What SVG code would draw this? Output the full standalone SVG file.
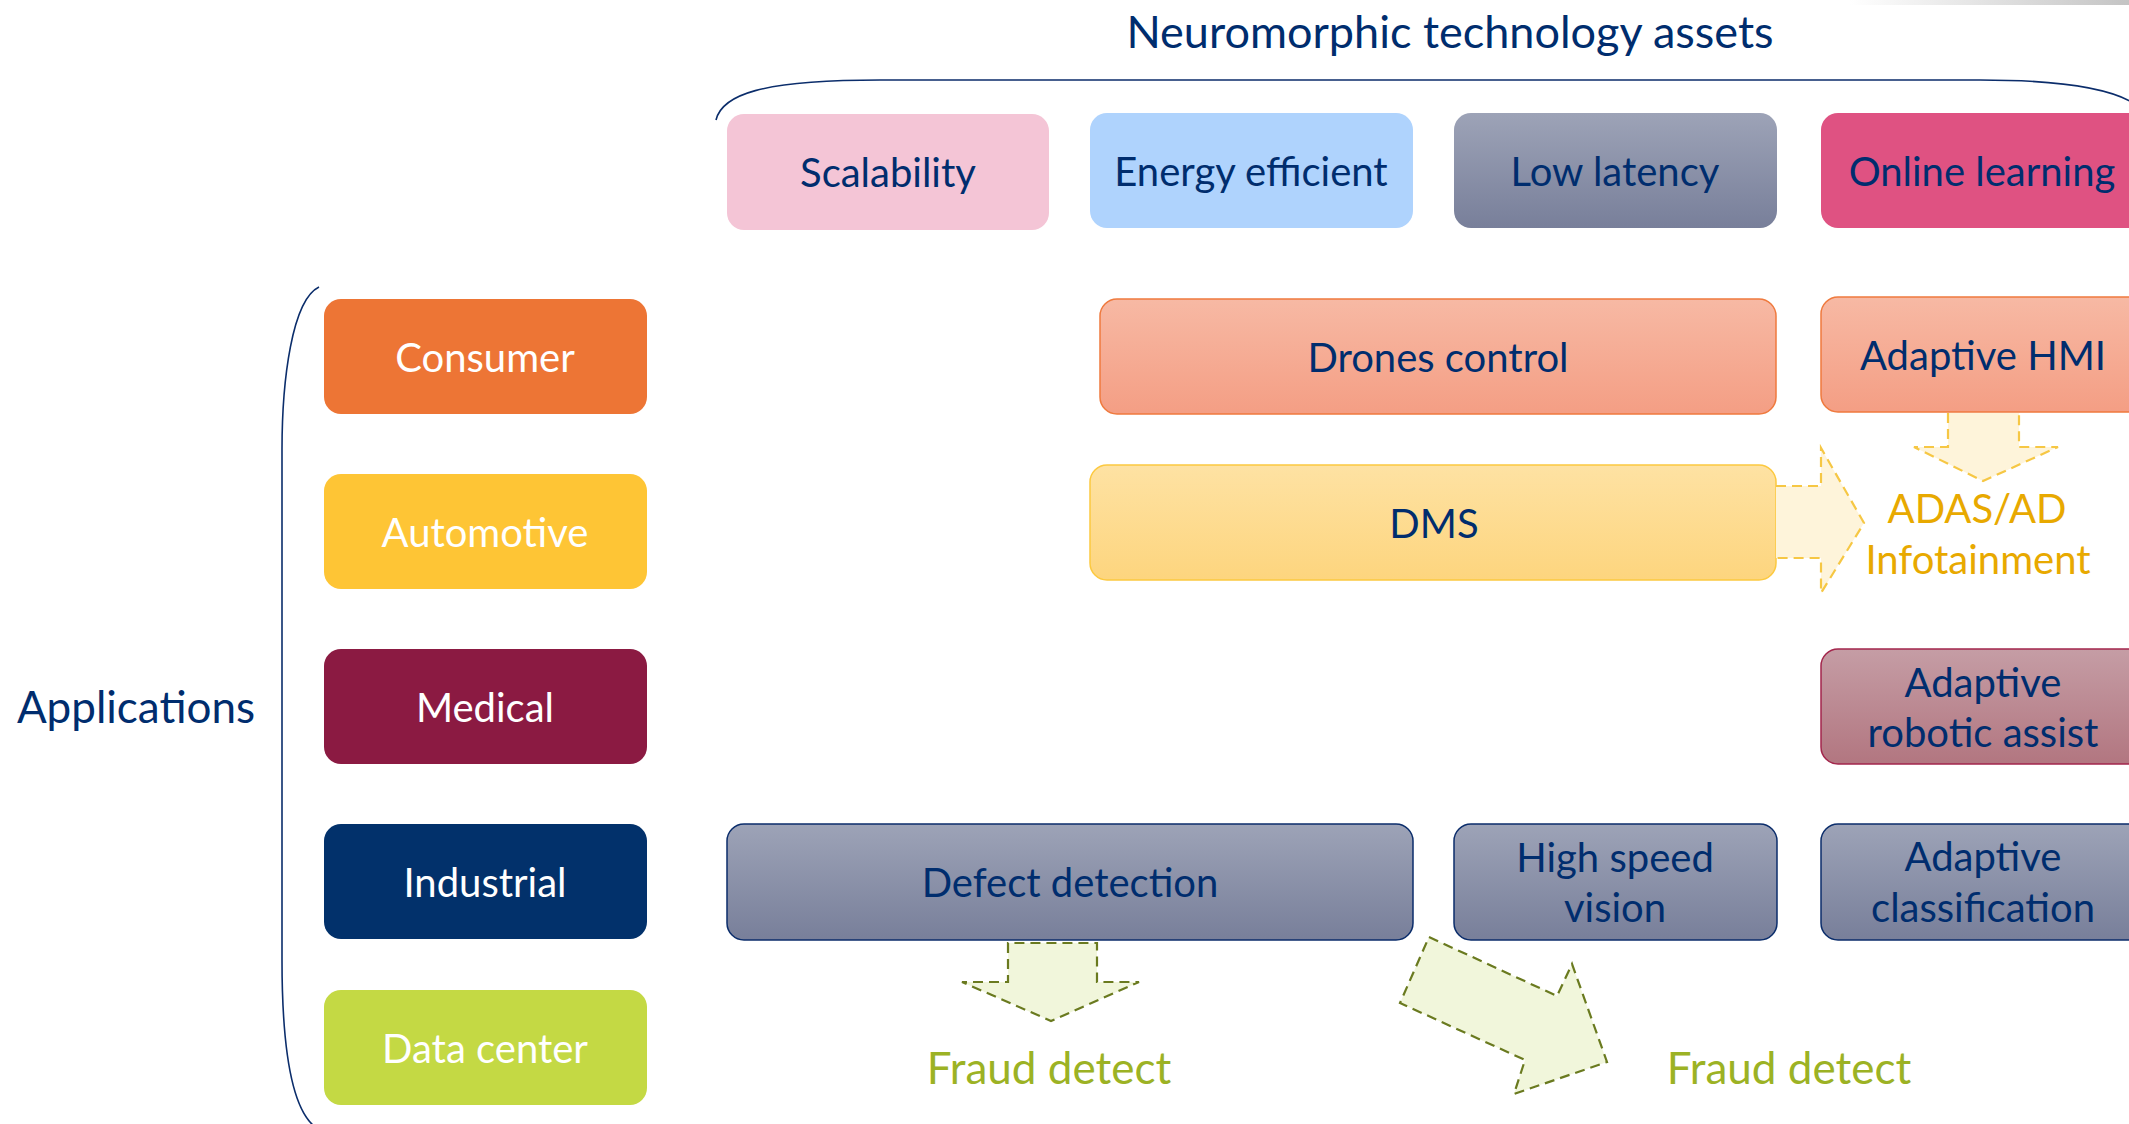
<svg xmlns="http://www.w3.org/2000/svg" width="2129" height="1124" viewBox="0 0 2129 1124">
  <defs>
    <linearGradient id="gGrey" x1="0" y1="0" x2="0" y2="1">
      <stop offset="0" stop-color="#9DA3B7"/>
      <stop offset="1" stop-color="#787F9A"/>
    </linearGradient>
    <linearGradient id="gSalmon" x1="0" y1="0" x2="0" y2="1">
      <stop offset="0" stop-color="#F7B9A4"/>
      <stop offset="1" stop-color="#F49E84"/>
    </linearGradient>
    <linearGradient id="gYellow" x1="0" y1="0" x2="0" y2="1">
      <stop offset="0" stop-color="#FEE2A3"/>
      <stop offset="1" stop-color="#FDD57E"/>
    </linearGradient>
    <linearGradient id="gRose" x1="0" y1="0" x2="0" y2="1">
      <stop offset="0" stop-color="#C59DA5"/>
      <stop offset="1" stop-color="#B27680"/>
    </linearGradient>
    <linearGradient id="gCorner" x1="0" y1="0" x2="1" y2="0">
      <stop offset="0" stop-color="#FFFFFF"/>
      <stop offset="1" stop-color="#C4C4C4"/>
    </linearGradient>
  </defs>
  <style>
    text { font-family: Lato, "Open Sans", "Liberation Sans", sans-serif; text-anchor: middle; }
    .lbl { font-size: 40px; fill: #002D6E; }
    .wht { font-size: 40px; fill: #FFFFFF; }
    .head { font-size: 45px; fill: #002D6E; }
    .apps { font-size: 44px; fill: #002D6E; }
    .gold { font-size: 40px; fill: #E8A900; }
    .olive { font-size: 44px; fill: #9CB224; }
    .brace { fill: none; stroke: #0B2D6B; stroke-width: 1.6; }
    .arrY { fill: #FEF4DA; stroke: #F6C744; stroke-width: 2.2; stroke-dasharray: 10 6; }
    .arrG { fill: #F1F6DB; stroke: #6A7A1F; stroke-width: 2.2; stroke-dasharray: 10 6; }
  </style>

  <!-- faint shading strip in the upper right corner -->
  <rect x="1850" y="0" width="279" height="5" fill="url(#gCorner)"/>

  <!-- headings and grouping braces -->
  <g id="title">
    <text class="head" x="1450" y="48">Neuromorphic technology assets</text>
    <path class="brace" d="M716,120 C722,95 760,80 880,80 L1980,80 C2060,80 2110,88 2135,104"/>
  </g>
  <g id="applications">
    <text class="apps" x="136" y="723">Applications</text>
    <path class="brace" d="M319,287 C292,300 282,380 282,450 L282,960 C282,1060 295,1110 314,1126"/>
  </g>

  <!-- technology assets -->
  <g id="scalability">
    <rect x="727" y="114" width="322" height="116" rx="17" fill="#F4C5D6"/>
    <text class="lbl" x="888" y="187">Scalability</text>
  </g>
  <g id="energy-efficient">
    <rect x="1090" y="113" width="323" height="115" rx="17" fill="#AFD3FD"/>
    <text class="lbl" x="1251" y="186">Energy efficient</text>
  </g>
  <g id="low-latency">
    <rect x="1454" y="113" width="323" height="115" rx="17" fill="url(#gGrey)"/>
    <text class="lbl" x="1615" y="186">Low latency</text>
  </g>
  <g id="online-learning">
    <rect x="1821" y="113" width="323" height="115" rx="17" fill="#DF5282"/>
    <text class="lbl" x="1982" y="186">Online learning</text>
  </g>

  <!-- application domains -->
  <g id="consumer">
    <rect x="324" y="299" width="323" height="115" rx="17" fill="#ED7535"/>
    <text class="wht" x="485" y="372">Consumer</text>
  </g>
  <g id="automotive">
    <rect x="324" y="474" width="323" height="115" rx="17" fill="#FEC535"/>
    <text class="wht" x="485" y="547">Automotive</text>
  </g>
  <g id="medical">
    <rect x="324" y="649" width="323" height="115" rx="17" fill="#8B1A42"/>
    <text class="wht" x="485" y="722">Medical</text>
  </g>
  <g id="industrial">
    <rect x="324" y="824" width="323" height="115" rx="17" fill="#02316B"/>
    <text class="wht" x="485" y="897">Industrial</text>
  </g>
  <g id="data-center">
    <rect x="324" y="990" width="323" height="115" rx="17" fill="#C4D944"/>
    <text class="wht" x="485" y="1063">Data center</text>
  </g>

  <!-- use cases -->
  <g id="drones-control">
    <rect x="1100" y="299" width="676" height="115" rx="17" fill="url(#gSalmon)" stroke="#EF7A3E" stroke-width="1.5"/>
    <text class="lbl" x="1438" y="372">Drones control</text>
  </g>
  <g id="adaptive-hmi">
    <rect x="1821" y="297" width="330" height="115" rx="17" fill="url(#gSalmon)" stroke="#EF7A3E" stroke-width="1.5"/>
    <text class="lbl" x="1983" y="370">Adaptive HMI</text>
  </g>
  <g id="dms">
    <rect x="1090" y="465" width="686" height="115" rx="17" fill="url(#gYellow)" stroke="#FCC940" stroke-width="1.5"/>
    <text class="lbl" x="1434" y="538">DMS</text>
  </g>
  <g id="adas-infotainment">
    <text class="gold" x="1977" y="523">ADAS/AD</text>
    <text class="gold" x="1978" y="574">Infotainment</text>
  </g>
  <g id="adaptive-robotic-assist">
    <rect x="1821" y="649" width="330" height="115" rx="17" fill="url(#gRose)" stroke="#A3264C" stroke-width="1.5"/>
    <text class="lbl" x="1983" y="697">Adaptive</text>
    <text class="lbl" x="1983" y="747">robotic assist</text>
  </g>
  <g id="defect-detection">
    <rect x="727" y="824" width="686" height="116" rx="17" fill="url(#gGrey)" stroke="#0B2D6B" stroke-width="1.5"/>
    <text class="lbl" x="1070" y="897">Defect detection</text>
  </g>
  <g id="high-speed-vision">
    <rect x="1454" y="824" width="323" height="116" rx="17" fill="url(#gGrey)" stroke="#0B2D6B" stroke-width="1.5"/>
    <text class="lbl" x="1615" y="872">High speed</text>
    <text class="lbl" x="1615" y="922">vision</text>
  </g>
  <g id="adaptive-classification">
    <rect x="1821" y="824" width="330" height="116" rx="17" fill="url(#gGrey)" stroke="#0B2D6B" stroke-width="1.5"/>
    <text class="lbl" x="1983" y="871">Adaptive</text>
    <text class="lbl" x="1983" y="922">classification</text>
  </g>
  <g id="fraud-detect-1">
    <text class="olive" x="1049" y="1084">Fraud detect</text>
  </g>
  <g id="fraud-detect-2">
    <text class="olive" x="1789" y="1084">Fraud detect</text>
  </g>

  <!-- block arrows between use cases -->
  <g id="connectors">
    <path class="arrY" d="M1776,486 L1821,486 L1821,448 L1864,523 L1821,593 L1821,558 L1776,558"/>
    <path class="arrY" d="M1948,413 L1948,447 L1914,447 L1983,481 L2058,447 L2019,447 L2019,413"/>
    <path class="arrG" d="M1008,943 L1008,982 L962,982 L1051,1021 L1139,982 L1097,982 L1097,943 Z"/>
    <path class="arrG" d="M1429,937 L1557,996 L1572,964 L1607,1062 L1514,1094 L1525,1060 L1400,1003 Z"/>
  </g>
</svg>
